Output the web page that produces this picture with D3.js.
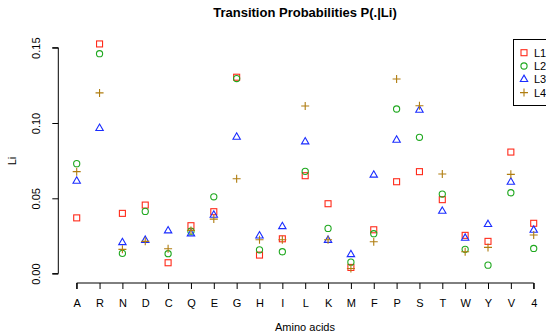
<!DOCTYPE html>
<html>
<head>
<meta charset="utf-8">
<script src="https://cdn.jsdelivr.net/npm/d3@7"></script>
<style>
  body { margin: 0; background: #fff; }
  svg { font-family: "Liberation Sans", Arial, sans-serif; }
</style>
</head>
<body>
<div id="chart"></div>
<script>
// categorias y series
const categories = ["A","R","N","D","C","Q","E","G","H","I","L","K","M","F","P","S","T","W","Y","V","4"];
const L1 = [0.037,0.1525,0.040,0.0455,0.0072,0.0318,0.0411,0.1304,0.0123,0.0231,0.0650,0.0464,0.0041,0.0291,0.0610,0.0677,0.0491,0.0254,0.0214,0.0807,0.0334];
const L2 = [0.073,0.146,0.0134,0.0413,0.0132,0.0282,0.051,0.1295,0.0158,0.0145,0.0679,0.030,0.0076,0.0265,0.1093,0.0905,0.0528,0.0161,0.0056,0.0537,0.0167];
const L3 = [0.0615,0.0965,0.0207,0.0222,0.0285,0.0265,0.0389,0.0907,0.0251,0.0313,0.0876,0.0222,0.0127,0.0655,0.0887,0.1086,0.0415,0.0236,0.0327,0.0608,0.0289];
const L4 = [0.0677,0.120,0.0161,0.0214,0.0165,0.0287,0.0362,0.063,0.0225,0.0225,0.1113,0.0225,0.0034,0.0211,0.1292,0.1115,0.0661,0.0145,0.0174,0.0659,0.0256];
const seriesNames = ["L1","L2","L3","L4"];
const yTicks = [0, 0.05, 0.10, 0.15];

const width = 546, height = 334;
const colors = { L1: "#ff2a1a", L2: "#1fa81f", L3: "#1a2cff", L4: "#b07d10" };
const shapes = { L1: "square", L2: "circle", L3: "triangle", L4: "plus" };

const svg = d3.select("#chart").append("svg")
  .attr("width", width).attr("height", height);

// escalas
const x = d3.scalePoint().domain(categories).range([76.7, 533.7]);
const y = d3.scaleLinear().domain([0, 0.15]).range([273.6, 47.7]);

// dibuja el simbolo de cada serie
const drawSymbol = (g, shape, color) => {
  if (shape === "square") {
    g.append("rect").attr("x", -3).attr("y", -3).attr("width", 6).attr("height", 6)
      .attr("fill", "none").attr("stroke", color).attr("stroke-width", 1.1);
  } else if (shape === "circle") {
    g.append("circle").attr("r", 3.1)
      .attr("fill", "none").attr("stroke", color).attr("stroke-width", 1.1);
  } else if (shape === "triangle") {
    g.append("path").attr("d", "M0,-4.2L3.7,2.2L-3.7,2.2Z")
      .attr("fill", "none").attr("stroke", color).attr("stroke-width", 1.1);
  } else {
    g.append("path").attr("d", "M-4,0H4M0,-4V4")
      .attr("fill", "none").attr("stroke", color).attr("stroke-width", 1.1);
  }
};

// eje x
const xAxis = svg.append("g").attr("transform", "translate(0,283)")
  .call(d3.axisBottom(x).tickSize(6).tickPadding(10));
xAxis.select(".domain").attr("d", `M${x("A")},6V0H${x("4")}V6`);
xAxis.selectAll("text").attr("font-size", 11).attr("fill", "#000")
  .attr("font-family", "Liberation Sans, Arial, sans-serif");

// eje y
const yAxis = svg.append("g").attr("transform", "translate(58.3,0)")
  .call(d3.axisLeft(y).tickValues(yTicks).tickFormat(d3.format(".2f")).tickSize(6).tickPadding(0));
yAxis.select(".domain").attr("d", `M-6,${y(0)}H0V${y(0.15)}H-6`);
yAxis.selectAll(".tick text")
  .attr("font-size", 11).attr("fill", "#000")
  .attr("font-family", "Liberation Sans, Arial, sans-serif")
  .attr("text-anchor", "middle")
  .attr("x", 0).attr("dy", 0)
  .attr("transform", "translate(-18,0) rotate(-90)");

// titulo y etiquetas
svg.append("text").attr("x", 305).attr("y", 17).attr("text-anchor", "middle")
  .attr("font-size", 13).attr("font-weight", "bold")
  .text("Transition Probabilities P(.|Li)");
svg.append("text").attr("x", 305).attr("y", 331).attr("text-anchor", "middle")
  .attr("font-size", 11).text("Amino acids");
svg.append("text").attr("transform", "translate(16,161) rotate(-90)")
  .attr("text-anchor", "middle").attr("font-size", 11).text("Li");

// puntos
const allSeries = { L1, L2, L3, L4 };
seriesNames.forEach((name) => {
  const data = allSeries[name].map((v, i) => ({ cat: categories[i], v }));
  svg.append("g").selectAll("g").data(data).join("g")
    .attr("transform", (d) => `translate(${x(d.cat)},${y(d.v)})`)
    .each(function () { drawSymbol(d3.select(this), shapes[name], colors[name]); });
});

// leyenda
const legend = svg.append("g");
legend.append("rect").attr("x", 513.5).attr("y", 39.5).attr("width", 60).attr("height", 66)
  .attr("fill", "#fff").attr("stroke", "#000").attr("stroke-width", 1);
seriesNames.forEach((name, i) => {
  const gy = 52.7 + i * 13.3;
  const g = legend.append("g").attr("transform", `translate(524,${gy})`);
  drawSymbol(g, shapes[name], colors[name]);
  legend.append("text").attr("x", 534).attr("y", gy + 4).attr("font-size", 11).text(name);
});
</script>
</body>
</html>
